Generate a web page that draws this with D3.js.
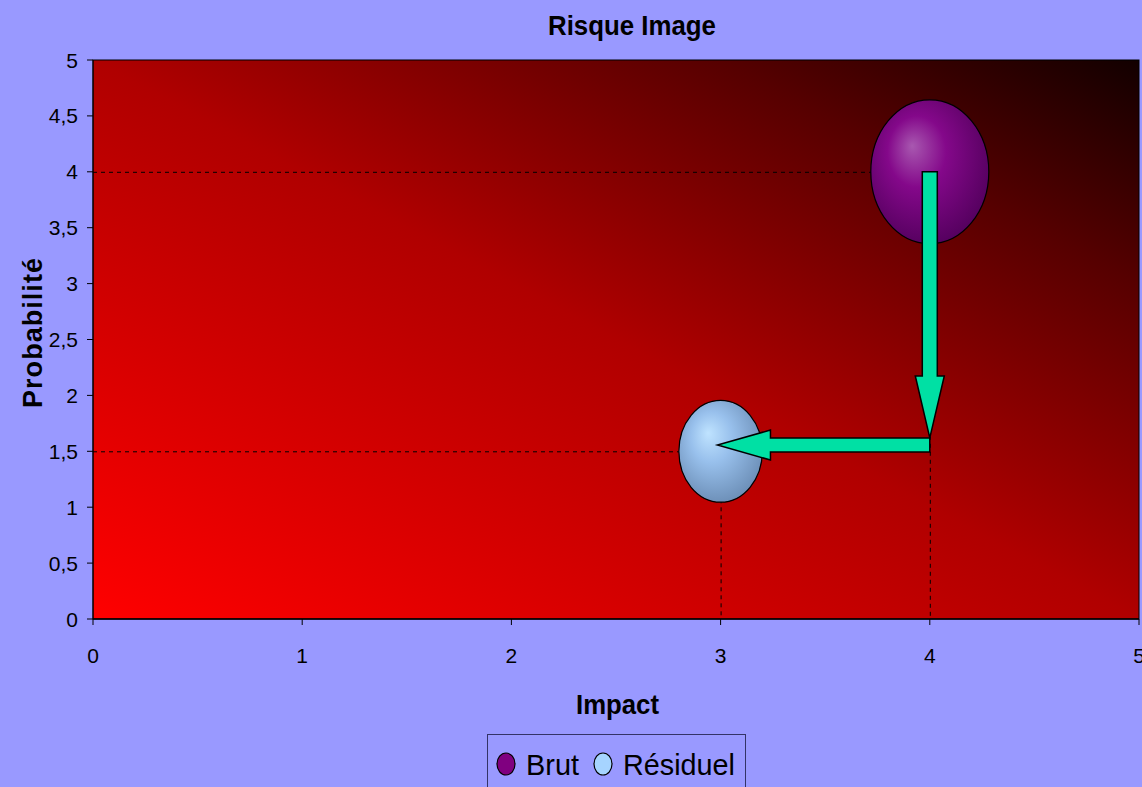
<!DOCTYPE html>
<html>
<head>
<meta charset="utf-8">
<script src="https://cdn.jsdelivr.net/npm/d3@7/dist/d3.min.js"></script>
<style>
  html, body { margin: 0; padding: 0; background: #9999FF; overflow: hidden; }
  svg { display: block; font-family: "Liberation Sans", Arial, sans-serif; }
</style>
</head>
<body>
<svg id="chart" width="1142" height="787"></svg>
<script>
// ---- Data ----
const seriesNames = ["Brut", "Résiduel"];
const impactValues = [4, 3];          // x
const probabilityValues = [4, 1.5];   // y
const bubbleSizes = [2, 1];           // bubble size
const xTicks = [0, 1, 2, 3, 4, 5];
const yTicks = [0, 0.5, 1, 1.5, 2, 2.5, 3, 3.5, 4, 4.5, 5];
const yTickLabels = ["0", "0,5", "1", "1,5", "2", "2,5", "3", "3,5", "4", "4,5", "5"];
// arrows: [x, y] in data units
const arrowFrom = [[4, 4], [4, 1.556]];
const arrowTo = [[4, 1.62], [2.985, 1.556]];

// ---- Layout ----
const svg = d3.select("#chart");
const W = 1142, H = 787;
const plot = { left: 93, right: 1139, top: 60, bottom: 619 };

const x = d3.scaleLinear().domain([0, 5]).range([plot.left, plot.right]);
const y = d3.scaleLinear().domain([0, 5]).range([plot.bottom, plot.top]);
const r = d3.scaleSqrt().domain([0, 2]).range([0, 59]);
const aspect = 1.22;

svg.append("rect").attr("width", W).attr("height", H).attr("fill", "#9999FF");

const defs = svg.append("defs");
const bg = defs.append("linearGradient").attr("id", "plotGrad")
  .attr("x1", 0).attr("y1", 1).attr("x2", 1).attr("y2", 0);
[[0, "#FF0000"], [0.5, "#B00000"], [0.8, "#560000"], [1, "#120000"]].forEach(([o, c]) =>
  bg.append("stop").attr("offset", o).attr("stop-color", c));

const gradColors = [
  ["#A858B0", "#84088A", "#52005C"],
  ["#BFE3FF", "#98C0EC", "#6A8CB4"]
];
gradColors.forEach((cs, i) => {
  const g = defs.append("radialGradient").attr("id", "bub" + i)
    .attr("cx", 0.45).attr("cy", 0.42).attr("r", 0.62)
    .attr("fx", 0.35).attr("fy", 0.32);
  g.append("stop").attr("offset", 0).attr("stop-color", cs[0]);
  g.append("stop").attr("offset", 0.4).attr("stop-color", cs[1]);
  g.append("stop").attr("offset", 1).attr("stop-color", cs[2]);
});

// plot area
svg.append("rect")
  .attr("x", plot.left).attr("y", plot.top)
  .attr("width", plot.right - plot.left).attr("height", plot.bottom - plot.top)
  .attr("fill", "url(#plotGrad)")
  .attr("stroke", "#000").attr("stroke-width", 1);

// drop lines
const drop = svg.append("g").attr("stroke", "#000").attr("stroke-width", 1).attr("stroke-dasharray", "4,4");
impactValues.forEach((v, i) => {
  drop.append("line").attr("x1", x(0)).attr("x2", x(v))
    .attr("y1", y(probabilityValues[i]) + 0.5).attr("y2", y(probabilityValues[i]) + 0.5);
  drop.append("line").attr("x1", x(v) + 0.5).attr("x2", x(v) + 0.5)
    .attr("y1", y(probabilityValues[i])).attr("y2", y(0));
});

// axes
const yAxis = svg.append("g");
yAxis.append("line").attr("x1", plot.left).attr("x2", plot.left).attr("y1", plot.top).attr("y2", plot.bottom)
  .attr("stroke", "#000");
yTicks.forEach((t, i) => {
  yAxis.append("line").attr("x1", plot.left - 6).attr("x2", plot.left)
    .attr("y1", y(t)).attr("y2", y(t)).attr("stroke", "#000");
  yAxis.append("text").attr("x", 78).attr("y", y(t) + 7.5)
    .attr("text-anchor", "end").attr("font-size", 21).attr("fill", "#000")
    .text(yTickLabels[i]);
});
const xAxis = svg.append("g");
xAxis.append("line").attr("x1", plot.left).attr("x2", plot.right).attr("y1", plot.bottom).attr("y2", plot.bottom)
  .attr("stroke", "#000").attr("stroke-width", 1.5);
xTicks.forEach(t => {
  xAxis.append("line").attr("x1", x(t)).attr("x2", x(t))
    .attr("y1", plot.bottom).attr("y2", plot.bottom + 6).attr("stroke", "#000");
  xAxis.append("text").attr("x", x(t)).attr("y", 663)
    .attr("text-anchor", "middle").attr("font-size", 21).attr("fill", "#000")
    .text(String(t));
});

// bubbles
impactValues.forEach((v, i) => {
  const rr = r(bubbleSizes[i]);
  svg.append("ellipse")
    .attr("cx", x(v)).attr("cy", y(probabilityValues[i]))
    .attr("rx", rr).attr("ry", rr * aspect)
    .attr("fill", `url(#bub${i})`)
    .attr("stroke", "#000").attr("stroke-width", 1.2);
});

// arrows
function arrowPath(x1, y1, x2, y2, shaftW, headW, headL) {
  const dx = x2 - x1, dy = y2 - y1, len = Math.hypot(dx, dy);
  const ux = dx / len, uy = dy / len, px = -uy, py = ux;
  const bx = x2 - ux * headL, by = y2 - uy * headL;
  const pts = [
    [x1 + px * shaftW / 2, y1 + py * shaftW / 2],
    [bx + px * shaftW / 2, by + py * shaftW / 2],
    [bx + px * headW / 2, by + py * headW / 2],
    [x2, y2],
    [bx - px * headW / 2, by - py * headW / 2],
    [bx - px * shaftW / 2, by - py * shaftW / 2],
    [x1 - px * shaftW / 2, y1 - py * shaftW / 2]
  ];
  return d3.line()(pts) + "Z";
}
const arrowG = svg.append("g");
const arrowDims = [[15, 29, 62], [14, 30, 53]];
arrowFrom.forEach((f, i) => {
  const t = arrowTo[i];
  arrowG.append("path")
    .attr("d", arrowPath(x(f[0]), y(f[1]), x(t[0]), y(t[1]), ...arrowDims[i]))
    .attr("fill", "#00E0A4").attr("stroke", "#000").attr("stroke-width", 1.5)
    .attr("stroke-linejoin", "miter");
});

// titles
svg.append("text").attr("x", 632).attr("y", 35).attr("text-anchor", "middle")
  .attr("font-size", 28).attr("font-weight", "bold").attr("fill", "#000")
  .attr("textLength", 168).attr("lengthAdjust", "spacingAndGlyphs")
  .text("Risque Image");
svg.append("text").attr("x", 617.5).attr("y", 714).attr("text-anchor", "middle")
  .attr("font-size", 28).attr("font-weight", "bold").attr("fill", "#000")
  .attr("textLength", 83).attr("lengthAdjust", "spacingAndGlyphs")
  .text("Impact");
svg.append("text").attr("transform", "translate(42,332) rotate(-90)")
  .attr("text-anchor", "middle")
  .attr("font-size", 27).attr("font-weight", "bold").attr("fill", "#000")
  .attr("letter-spacing", 2)
  .attr("textLength", 152).attr("lengthAdjust", "spacing")
  .text("Probabilité");

// legend
const leg = svg.append("g");
leg.append("rect").attr("x", 487.5).attr("y", 734.5).attr("width", 258).attr("height", 70)
  .attr("fill", "none").attr("stroke", "#333366").attr("stroke-width", 1);
const legX = [506, 603];
const legTextX = [526, 623];
const legTextW = [53, 112];
const legFill = ["#800080", "#A6D4FF"];
seriesNames.forEach((n, i) => {
  leg.append("ellipse").attr("cx", legX[i]).attr("cy", 764).attr("rx", 9).attr("ry", 11)
    .attr("fill", legFill[i]).attr("stroke", "#000").attr("stroke-width", 1.2);
  leg.append("text").attr("x", legTextX[i]).attr("y", 775)
    .attr("font-size", 30).attr("fill", "#000")
    .attr("textLength", legTextW[i]).attr("lengthAdjust", "spacingAndGlyphs")
    .text(n);
});
</script>
</body>
</html>
